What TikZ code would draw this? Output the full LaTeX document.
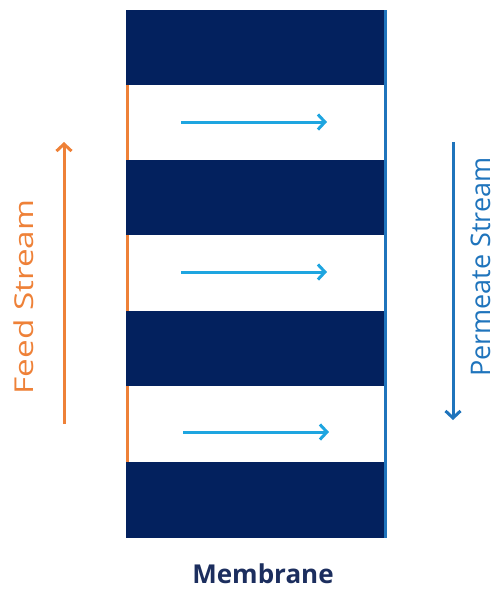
\documentclass[tikz,border=0pt]{standalone}
\usepackage{fontspec}
\setmainfont{Open Sans}
\usetikzlibrary{arrows.meta}
\definecolor{navy}{HTML}{03215E}
\definecolor{feedor}{HTML}{EE8138}
\definecolor{permblue}{HTML}{1F74BC}
\definecolor{flowblue}{HTML}{1EA5E0}
\definecolor{labnavy}{HTML}{1C2E5E}
\tikzset{
  band/.style={fill=navy, draw=none},
  flow/.style={draw=flowblue, line width=3pt, -{Straight Barb[length=7pt,width=15pt,line width=3pt]}},
  stream/.style={line width=3pt, -{Straight Barb[length=7pt,width=15pt,line width=3pt]}},
  lab/.style={inner sep=0pt, anchor=base}
}
\begin{document}
\begin{tikzpicture}[x=1pt,y=-1pt]
\useasboundingbox (0,0) rectangle (496,590);
% membrane edges
\draw[feedor, line width=3pt] (127.5,10) -- (127.5,538);
\draw[permblue, line width=3pt] (385.5,10) -- (385.5,538);
% bands
\path[band] (126,10) rectangle (384,85);
\path[band] (126,160) rectangle (384,235);
\path[band] (126,311) rectangle (384,386);
\path[band] (126,462) rectangle (384,538);
% flow arrows
\coordinate (f1s) at (181,122); \coordinate (f1e) at (327,122);
\coordinate (f2s) at (181,272); \coordinate (f2e) at (327,272);
\coordinate (f3s) at (183,432); \coordinate (f3e) at (329,432);
\draw[flow] (f1s) -- (f1e);
\draw[flow] (f2s) -- (f2e);
\draw[flow] (f3s) -- (f3e);
% streams
\coordinate (fs) at (64,424); \coordinate (fe) at (64,142);
\draw[stream, draw=feedor] (fs) -- (fe);
\coordinate (ps) at (453,142); \coordinate (pe) at (453,420);
\draw[stream, draw=permblue] (ps) -- (pe);
\node[lab, text=feedor, rotate=90, font=\fontsize{26}{30}\selectfont] (feed) at (33,297) {\scalebox{1.28}[1]{Feed Stream}};
\node[lab, text=permblue, rotate=90, font=\fontsize{27}{31}\selectfont] (perm) at (490,267) {Permeate Stream};
\node[lab, text=labnavy, font=\fontsize{26}{30}\selectfont\bfseries] (mem) at (263,583) {Membrane};
\end{tikzpicture}
\end{document}
